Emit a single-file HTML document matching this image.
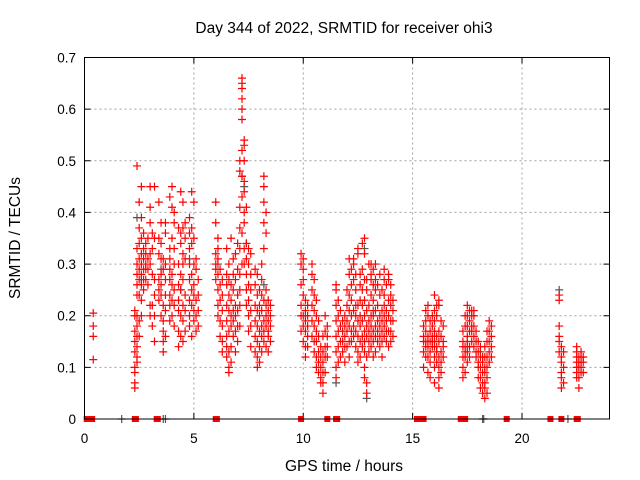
<!DOCTYPE html>
<html><head><meta charset="utf-8"><style>
body{margin:0;background:#fff}
svg{display:block;font-family:"Liberation Sans",sans-serif}
</style></head><body>
<svg id="c" width="640" height="480">
<text x="344" y="33" font-size="15.5" text-anchor="middle">Day 344 of 2022, SRMTID for receiver ohi3</text>
<text x="344" y="471" font-size="15.5" text-anchor="middle">GPS time / hours</text>
<text transform="translate(20,238) rotate(-90)" font-size="15.5" text-anchor="middle">SRMTID / TECUs</text>
<g id="grid"></g><g id="ticks"></g><g id="grey"></g><g id="red"></g>
<rect x="84.5" y="57.5" width="525" height="361.5" fill="none" stroke="#000"/>
</svg>
<script>
const xTicks=[0,5,10,15,20];
const yTicks=[0,0.1,0.2,0.3,0.4,0.5,0.6,0.7];
const yTickLabels=["0","0.1","0.2","0.3","0.4","0.5","0.6","0.7"];
const redCols=[
[0.4,[0.205,0.18,0.16,0.115]],
[2.3,[0.06,0.07,0.09,0.1,0.13,0.15,0.17,0.2,0.21]],
[2.4,[0.11,0.12,0.14,0.16,0.18,0.2,0.24,0.26,0.28,0.3,0.33,0.49]],
[2.5,[0.16,0.19,0.24,0.27,0.29,0.31,0.34,0.37,0.42]],
[2.6,[0.2,0.23,0.26,0.28,0.3,0.32,0.35,0.39,0.45]],
[2.7,[0.25,0.27,0.29,0.31,0.33,0.36]],
[2.8,[0.27,0.29,0.3,0.32,0.34]],
[2.9,[0.26,0.29,0.31,0.35]],
[3.0,[0.22,0.2,0.3,0.32,0.38,0.45,0.41]],
[3.1,[0.18,0.22,0.28,0.33,0.36]],
[3.2,[0.15,0.2,0.24,0.27,0.35,0.45]],
[3.4,[0.23,0.25,0.27,0.32,0.35,0.42]],
[3.5,[0.2,0.24,0.26,0.28,0.31,0.34,0.38]],
[3.6,[0.13,0.15,0.17,0.19,0.22,0.29,0.31]],
[3.7,[0.16,0.21,0.24,0.27,0.3,0.36,0.38]],
[3.9,[0.19,0.22,0.24,0.27,0.29,0.31,0.33,0.43]],
[4.0,[0.2,0.23,0.26,0.28,0.35,0.41,0.45]],
[4.1,[0.18,0.22,0.25,0.3,0.33,0.38,0.4]],
[4.3,[0.14,0.17,0.21,0.23,0.26,0.3,0.37]],
[4.4,[0.16,0.2,0.25,0.28,0.34,0.36,0.44]],
[4.5,[0.15,0.19,0.22,0.27,0.3,0.32,0.37,0.42]],
[4.6,[0.17,0.21,0.24,0.31,0.35,0.38]],
[4.8,[0.18,0.2,0.23,0.27,0.3,0.33,0.36,0.39]],
[4.9,[0.16,0.22,0.25,0.28,0.34,0.37,0.44]],
[5.0,[0.19,0.21,0.24,0.26,0.3,0.35,0.42]],
[5.1,[0.17,0.2,0.23,0.29,0.31]],
[5.2,[0.18,0.21,0.24,0.27]],
[6.0,[0.27,0.29,0.3,0.32,0.38,0.42]],
[6.1,[0.2,0.22,0.25,0.28,0.31,0.33,0.35]],
[6.2,[0.16,0.19,0.23,0.26,0.29]],
[6.3,[0.13,0.15,0.18,0.21,0.24,0.27]],
[6.5,[0.12,0.14,0.16,0.19,0.22,0.26,0.28,0.33]],
[6.6,[0.09,0.1,0.13,0.17,0.21,0.24,0.27,0.3]],
[6.7,[0.11,0.14,0.18,0.2,0.23,0.26,0.35]],
[6.8,[0.16,0.19,0.21,0.25,0.28,0.31]],
[6.9,[0.13,0.17,0.2,0.22,0.27,0.32]],
[7.0,[0.15,0.18,0.21,0.24,0.29,0.34]],
[7.1,[0.18,0.22,0.25,0.28,0.33,0.37,0.41,0.48,0.5]],
[7.2,[0.3,0.36,0.43,0.47,0.52,0.58,0.6,0.62,0.64,0.66,0.65]],
[7.3,[0.38,0.4,0.44,0.46,0.5,0.53,0.54,0.33,0.3]],
[7.4,[0.22,0.25,0.28,0.31,0.34,0.41]],
[7.5,[0.17,0.2,0.23,0.26,0.3,0.33]],
[7.6,[0.14,0.18,0.21,0.25,0.28,0.32]],
[7.8,[0.13,0.16,0.19,0.22,0.26,0.29]],
[7.9,[0.1,0.12,0.15,0.18,0.21,0.24,0.28]],
[8.0,[0.11,0.14,0.17,0.2,0.22,0.25]],
[8.1,[0.13,0.16,0.18,0.21,0.24,0.27,0.3]],
[8.2,[0.15,0.17,0.19,0.23,0.33,0.38,0.42,0.45,0.47]],
[8.3,[0.14,0.18,0.2,0.22,0.25,0.36,0.4]],
[8.4,[0.13,0.16,0.17,0.19,0.21,0.23]],
[8.5,[0.15,0.18,0.2,0.22]],
[9.9,[0.22,0.26,0.3,0.32,0.2,0.17]],
[10.0,[0.15,0.18,0.2,0.24,0.27,0.29,0.31]],
[10.1,[0.12,0.14,0.17,0.19,0.21,0.23]],
[10.2,[0.14,0.16,0.18,0.2,0.22]],
[10.4,[0.16,0.19,0.22,0.25,0.28,0.3]],
[10.5,[0.13,0.15,0.18,0.21,0.24,0.27]],
[10.6,[0.1,0.12,0.15,0.17,0.2,0.23]],
[10.7,[0.09,0.11,0.13,0.16,0.19]],
[10.8,[0.07,0.08,0.1,0.12,0.14]],
[10.9,[0.05,0.07,0.09,0.11,0.13,0.16]],
[11.0,[0.09,0.12,0.14,0.17,0.2]],
[11.1,[0.12,0.14,0.16,0.18]],
[11.5,[0.08,0.1,0.13,0.16,0.19,0.22,0.25,0.26]],
[11.6,[0.11,0.14,0.17,0.2,0.23]],
[11.7,[0.12,0.15,0.18,0.21]],
[11.8,[0.13,0.15,0.17,0.19]],
[11.9,[0.11,0.14,0.16,0.18,0.2]],
[12.0,[0.14,0.17,0.19,0.22,0.25]],
[12.1,[0.12,0.15,0.18,0.21,0.24,0.28,0.31]],
[12.2,[0.15,0.17,0.2,0.23,0.26,0.29]],
[12.3,[0.16,0.18,0.21,0.27,0.3,0.31]],
[12.4,[0.14,0.17,0.2,0.22,0.25,0.28]],
[12.5,[0.11,0.13,0.16,0.19,0.22,0.32,0.33]],
[12.6,[0.12,0.15,0.18,0.2,0.23,0.26,0.28]],
[12.7,[0.14,0.16,0.19,0.22,0.25,0.29,0.34]],
[12.8,[0.08,0.1,0.13,0.15,0.17,0.2,0.23,0.27,0.35,0.32]],
[12.9,[0.05,0.07,0.12,0.16,0.18,0.21,0.25,0.27]],
[13.0,[0.13,0.15,0.17,0.19,0.22,0.3]],
[13.1,[0.14,0.16,0.18,0.2,0.24,0.27,0.28,0.3]],
[13.2,[0.12,0.15,0.17,0.2,0.23,0.26,0.29]],
[13.3,[0.13,0.16,0.18,0.21,0.25,0.27,0.3]],
[13.4,[0.15,0.17,0.19,0.22,0.26]],
[13.5,[0.14,0.16,0.18,0.2,0.24,0.28]],
[13.6,[0.12,0.15,0.17,0.19,0.21,0.25]],
[13.7,[0.16,0.18,0.2,0.22,0.24,0.27,0.29]],
[13.8,[0.15,0.17,0.19,0.21,0.26]],
[13.9,[0.14,0.17,0.2,0.23,0.27,0.28]],
[14.0,[0.15,0.17,0.19,0.22,0.24,0.26]],
[14.1,[0.16,0.19,0.21,0.23]],
[15.5,[0.1,0.13,0.15,0.16,0.18]],
[15.6,[0.12,0.14,0.15,0.17,0.19,0.21]],
[15.7,[0.09,0.12,0.14,0.15,0.16,0.2,0.22]],
[15.8,[0.08,0.11,0.13,0.15,0.17,0.19]],
[15.9,[0.14,0.15,0.16,0.18,0.2]],
[16.0,[0.07,0.1,0.12,0.14,0.15,0.17,0.19,0.21,0.24]],
[16.1,[0.11,0.13,0.14,0.16,0.2,0.22]],
[16.2,[0.06,0.08,0.1,0.12,0.15,0.17,0.22,0.23]],
[16.3,[0.09,0.11,0.13,0.16,0.19]],
[16.4,[0.12,0.14,0.15,0.18]],
[17.3,[0.08,0.1,0.12,0.14,0.15,0.17]],
[17.4,[0.09,0.12,0.13,0.14,0.18,0.2]],
[17.5,[0.11,0.13,0.15,0.16,0.18,0.2,0.22]],
[17.6,[0.12,0.14,0.17,0.19,0.21]],
[17.7,[0.15,0.17,0.18,0.2,0.21]],
[17.8,[0.14,0.16,0.18,0.2,0.21]],
[17.9,[0.12,0.13,0.15,0.17]],
[18.0,[0.08,0.1,0.11,0.13,0.15]],
[18.1,[0.06,0.08,0.1,0.12,0.14]],
[18.2,[0.05,0.07,0.09,0.11,0.12]],
[18.3,[0.04,0.06,0.07,0.09,0.1,0.12,0.14]],
[18.4,[0.05,0.08,0.1,0.12,0.15,0.17]],
[18.5,[0.11,0.13,0.15,0.17,0.19]],
[18.6,[0.12,0.14,0.16,0.18]],
[21.7,[0.24,0.23,0.18,0.16,0.15,0.13]],
[21.8,[0.14,0.12,0.11,0.09,0.08,0.06]],
[21.9,[0.13,0.1,0.07]],
[22.5,[0.09,0.1,0.12,0.13,0.14,0.11,0.08]],
[22.6,[0.06,0.08,0.1,0.11,0.12]],
[22.7,[0.09,0.1,0.11,0.12,0.13]],
[22.8,[0.09,0.11,0.12]]
];
const redZeros=[0.1,0.2,0.3,0.35,2.3,2.35,3.3,3.35,6.0,6.05,9.9,11.1,11.5,11.55,15.2,15.4,15.5,17.2,17.3,17.4,19.3,21.3,21.8,22.5,22.55];
const greyPts=[[2.4,0.39],[2.6,0.27],[3.5,0.29],[4.4,0.25],[4.8,0.31],[6.1,0.3],[7.2,0.47],[7.3,0.45],[7.4,0.34],[8.2,0.26],[10.1,0.2],[11.5,0.07],[12.8,0.33],[12.9,0.04],[13.2,0.21],[16.0,0.16],[17.5,0.14],[18.1,0.13],[21.7,0.25],[22.6,0.1],[1.7,0],[3.6,0],[3.7,0],[18.2,0],[18.25,0],[22.1,0]];
const X0=84.5,X1=609.5,Y0=419,Y1=57.5,XMAX=24,YMAX=0.7;
const sx=t=>X0+t/XMAX*(X1-X0), sy=v=>Y0-v/YMAX*(Y0-Y1);
const NS="http://www.w3.org/2000/svg";
function mk(tag,attrs,parent){const e=document.createElementNS(NS,tag);for(const k in attrs)e.setAttribute(k,attrs[k]);document.getElementById(parent).appendChild(e);return e;}
xTicks.forEach(t=>{const x=sx(t);
 if(t>0){const g=mk('line',{x1:x,x2:x,y1:Y1,y2:Y0,stroke:'#a0a0a0','stroke-dasharray':'2,3'},'grid');
 
 }
 const a=mk('path',{d:`M${x},${Y0}v-6M${x},${Y1}v6`,stroke:'#000'},'ticks');
 
 
 const l=mk('text',{x:x,y:443,'font-size':13.5,'text-anchor':'middle'},'ticks');l.textContent=t;
 
 });
yTicks.forEach((v,i)=>{const y=sy(v);
 if(v>0&&v<YMAX){const g=mk('line',{x1:X0,x2:X1,y1:y,y2:y,stroke:'#a0a0a0','stroke-dasharray':'2,3'},'grid');
 
 }
 const a=mk('path',{d:`M${X0},${y}h6M${X1},${y}h-6`,stroke:'#000'},'ticks');
 
 
 const l=mk('text',{x:76,y:y+5,'font-size':13.5,'text-anchor':'end'},'ticks');l.textContent=yTickLabels[i];
 
 });
function cross(t,v,col,parent,name){const x=sx(t),y=sy(v);
 const p=mk('path',{d:`M${x-4},${y}h8M${x},${y-4}v8`,stroke:col,'stroke-width':1.2},parent);
 
 }
greyPts.forEach(p=>cross(p[0],p[1],'#555','grey','grey-point'));
redCols.forEach(c=>c[1].forEach(v=>cross(c[0],v,'#f00','red','red-point')));
redZeros.forEach(t=>{const r=mk('rect',{x:sx(t)-3,y:sy(0)-3,width:6,height:6,fill:'#f00'},'red');
 
 });
</script>
</body></html>
